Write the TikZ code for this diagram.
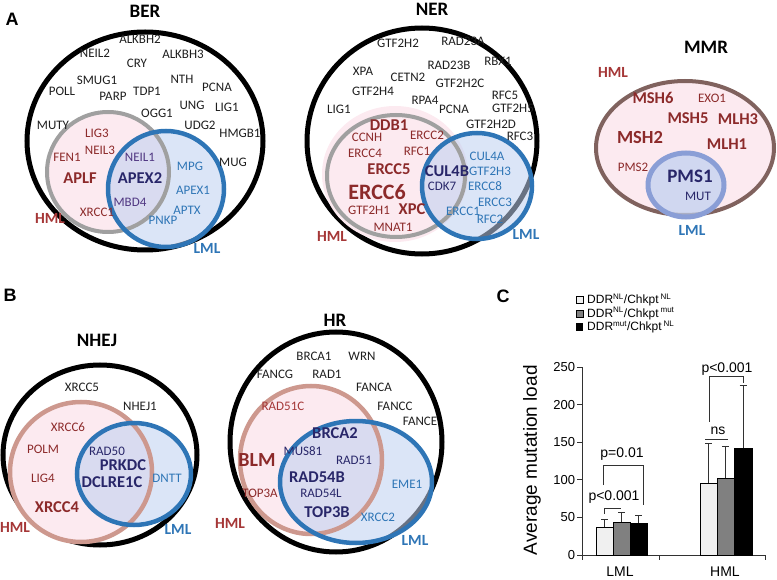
\documentclass[tikz,border=0pt]{standalone}
\usepackage{fontspec}
\setmainfont{Carlito}
\newfontfamily\chartfont{Liberation Sans}

\definecolor{genegray}{RGB}{30,30,30}
\definecolor{hmlred}{RGB}{140,42,42}
\definecolor{hmltagred}{RGB}{165,55,55}
\definecolor{lmlblue}{RGB}{46,117,182}
\definecolor{sharednavy}{RGB}{40,38,105}
\definecolor{sharedpurple}{RGB}{80,55,130}
\definecolor{pinkfill}{RGB}{252,234,240}
\definecolor{bluefill}{RGB}{190,208,240}
\definecolor{ringgray}{RGB}{160,160,160}
\definecolor{ringrose}{RGB}{205,152,142}
\definecolor{ringbrown}{RGB}{128,98,94}
\definecolor{ringlilac}{RGB}{138,158,214}
\definecolor{barlight}{RGB}{240,240,240}
\definecolor{barmid}{RGB}{128,128,128}
\definecolor{inkgray}{RGB}{50,50,50}

\tikzset{
  gene/.style={inner sep=0pt, text=genegray, font=\fontsize{13}{13}\selectfont},
  hmlgene/.style={gene, text=hmlred},
  lmlgene/.style={gene, text=lmlblue},
  sharedgene/.style={gene, text=sharednavy},
  biggene/.style={font=\fontsize{16.5}{17}\selectfont\bfseries},
  pathway/.style={inner sep=0pt, font=\fontsize{19}{19}\selectfont\bfseries},
  hmltag/.style={inner sep=0pt, text=hmltagred, font=\fontsize{15.5}{16}\selectfont\bfseries},
  lmltag/.style={inner sep=0pt, text=lmlblue, font=\fontsize{15.5}{16}\selectfont\bfseries},
  panel/.style={inner sep=0pt, font=\chartfont\fontsize{18}{18}\selectfont\bfseries},
  outerring/.style={draw=black, line width=5pt},
  hmlfill/.style={fill=pinkfill},
  lmlfill/.style={fill=bluefill, fill opacity=0.55},
  grayring/.style={draw=ringgray, line width=4pt},
  rosering/.style={draw=ringrose, line width=4.5pt},
  bluering/.style={draw=lmlblue, line width=4.5pt},
  chartfont/.style={font=\chartfont\fontsize{14}{14}\selectfont},
  keytext/.style={anchor=west, inner sep=0pt, font=\chartfont\fontsize{12}{12}\selectfont},
  axisline/.style={draw=inkgray, line width=0.8pt},
  barbox/.style={draw=black, line width=0.6pt},
  errbar/.style={draw=inkgray, line width=0.8pt},
  bracket/.style={draw=inkgray, line width=0.9pt},
}

\begin{document}
\begin{tikzpicture}[x=1pt,y=-1pt]
\useasboundingbox (0,0) rectangle (777,580);

% panel letters
\node[panel] (panelA) at (12,19) {A};
\node[panel] (panelB) at (10,295) {B};
\node[panel] (panelC) at (503,296) {C};

% ---------- BER ----------
\node[pathway] (ber) at (145,11) {BER};
\draw[outerring] (145,141) ellipse [x radius=118, y radius=109];
\fill[hmlfill] (108,172) ellipse [x radius=61, y radius=60];
\fill[lmlfill] (166,189) ellipse [x radius=58, y radius=58];
\draw[grayring] (108,172) ellipse [x radius=61, y radius=60];
\draw[bluering] (166,189) ellipse [x radius=58, y radius=58];
\node[gene] (ber-alkbh2) at (140,39) {ALKBH2};
\node[gene] (ber-neil2) at (95,53) {NEIL2};
\node[gene] (ber-alkbh3) at (183,54) {ALKBH3};
\node[gene] (ber-cry) at (137,63) {CRY};
\node[gene] (ber-smug1) at (97,80) {SMUG1};
\node[gene] (ber-nth) at (182,79) {NTH};
\node[gene] (ber-poll) at (62,91) {POLL};
\node[gene] (ber-parp) at (113,96) {PARP};
\node[gene] (ber-tdp1) at (147,91) {TDP1};
\node[gene] (ber-pcna) at (217,87) {PCNA};
\node[gene] (ber-ogg1) at (157,113) {OGG1};
\node[gene] (ber-ung) at (192,105) {UNG};
\node[gene] (ber-lig1) at (227,107) {LIG1};
\node[gene] (ber-muty) at (53,125) {MUTY};
\node[gene] (ber-udg2) at (200,125) {UDG2};
\node[gene] (ber-hmgb1) at (240,133) {HMGB1};
\node[gene] (ber-mug) at (233,162) {MUG};
\node[hmlgene] (ber-lig3) at (97,133) {LIG3};
\node[hmlgene] (ber-neil3) at (100,150) {NEIL3};
\node[hmlgene] (ber-fen1) at (67,157) {FEN1};
\node[hmlgene, biggene] (ber-aplf) at (80,178) {APLF};
\node[hmlgene] (ber-xrcc1) at (97,212) {XRCC1};
\node[gene, text=sharedpurple] (ber-neil1) at (140,157) {NEIL1};
\node[sharedgene, biggene] (ber-apex2) at (140,178) {APEX2};
\node[gene, text=sharedpurple] (ber-mbd4) at (130,202) {MBD4};
\node[lmlgene] (ber-mpg) at (190,166) {MPG};
\node[lmlgene] (ber-apex1) at (193,190) {APEX1};
\node[lmlgene] (ber-aptx) at (187,210) {APTX};
\node[lmlgene] (ber-pnkp) at (163,220) {PNKP};
\node[hmltag] (ber-hml) at (50,218) {HML};
\node[lmltag] (ber-lml) at (207,248) {LML};

% ---------- NER ----------
\node[pathway] (ner) at (432,9) {NER};
\draw[outerring] (422,141) ellipse [x radius=115, y radius=113];
\fill[hmlfill] (395,174) ellipse [x radius=73, y radius=68];
\fill[lmlfill] (477,186) ellipse [x radius=55, y radius=53];
\draw[grayring] (396,176) ellipse [x radius=69, y radius=61];
\draw[bluering] (477,186) ellipse [x radius=55, y radius=53];
\node[gene] (ner-gtf2h2) at (398,43) {GTF2H2};
\node[gene] (ner-rad23a) at (463,41) {RAD23A};
\node[gene] (ner-rad23b) at (449,65) {RAD23B};
\node[gene] (ner-rbx1) at (498,61) {RBX1};
\node[gene] (ner-xpa) at (363,71) {XPA};
\node[gene] (ner-cetn2) at (408,77) {CETN2};
\node[gene] (ner-gtf2h2c) at (460,83) {GTF2H2C};
\node[gene] (ner-gtf2h4) at (373,91) {GTF2H4};
\node[gene] (ner-rfc5) at (505,95) {RFC5};
\node[gene] (ner-rpa4) at (425,100) {RPA4};
\node[gene] (ner-lig1) at (339,109) {LIG1};
\node[gene] (ner-pcna) at (454,109) {PCNA};
\node[gene] (ner-gtf2h5) at (513,108) {GTF2H5};
\node[gene] (ner-gtf2h2d) at (491,124) {GTF2H2D};
\node[gene] (ner-rfc3) at (520,136) {RFC3};
\node[hmlgene, biggene] (ner-ddb1) at (389,125) {DDB1};
\node[hmlgene] (ner-ercc2) at (427,135) {ERCC2};
\node[hmlgene] (ner-ccnh) at (367,137) {CCNH};
\node[hmlgene] (ner-ercc4) at (365,153) {ERCC4};
\node[hmlgene] (ner-rfc1) at (417,151) {RFC1};
\node[hmlgene, biggene] (ner-ercc5) at (389,169) {ERCC5};
\node[hmlgene, biggene, font=\fontsize{22}{22}\selectfont\bfseries] (ner-ercc6) at (377,192) {ERCC6};
\node[hmlgene] (ner-gtf2h1) at (369,210) {GTF2H1};
\node[hmlgene, biggene] (ner-xpc) at (412,209) {XPC};
\node[hmlgene] (ner-mnat1) at (393,227) {MNAT1};
\node[sharedgene, biggene] (ner-cul4b) at (447,171) {CUL4B};
\node[sharedgene] (ner-cdk7) at (442,186) {CDK7};
\node[lmlgene] (ner-cul4a) at (487,156) {CUL4A};
\node[lmlgene] (ner-gtf2h3) at (490,171) {GTF2H3};
\node[lmlgene] (ner-ercc8) at (485,186) {ERCC8};
\node[lmlgene] (ner-ercc3) at (495,202) {ERCC3};
\node[lmlgene] (ner-ercc1) at (463,211) {ERCC1};
\node[lmlgene] (ner-rfc2) at (490,219) {RFC2};
\node[hmltag] (ner-hml) at (332,236) {HML};
\node[lmltag] (ner-lml) at (526,234) {LML};

% ---------- MMR ----------
\node[pathway] (mmr) at (706,47) {MMR};
\draw[draw=ringbrown, line width=4pt, fill=pinkfill] (685,148) ellipse [x radius=89, y radius=67];
\draw[draw=ringlilac, line width=5pt, fill=bluefill, fill opacity=0.7] (686,185) ellipse [x radius=38, y radius=32];
\node[hmlgene, biggene] (mmr-msh6) at (653,98) {MSH6};
\node[hmlgene] (mmr-exo1) at (712,98) {EXO1};
\node[hmlgene, biggene] (mmr-msh5) at (688,118) {MSH5};
\node[hmlgene, biggene] (mmr-mlh3) at (738,119) {MLH3};
\node[hmlgene, font=\fontsize{18.5}{19}\selectfont\bfseries] (mmr-msh2) at (640,137) {MSH2};
\node[hmlgene, biggene] (mmr-mlh1) at (727,144) {MLH1};
\node[hmlgene] (mmr-pms2) at (633,167) {PMS2};
\node[sharedgene, font=\fontsize{19}{19}\selectfont\bfseries] (mmr-pms1) at (690,176) {PMS1};
\node[sharedgene] (mmr-mut) at (698,196) {MUT};
\node[hmltag] (mmr-hml) at (613,72) {HML};
\node[lmltag] (mmr-lml) at (692,230) {LML};

% ---------- NHEJ ----------
\node[pathway] (nhej) at (97,340) {NHEJ};
\draw[outerring] (100,455) ellipse [x radius=97, y radius=90];
\fill[hmlfill] (81,472) ellipse [x radius=71, y radius=70];
\fill[lmlfill] (134,474) ellipse [x radius=57, y radius=51];
\draw[rosering] (81,472) ellipse [x radius=71, y radius=70];
\draw[bluering] (134,474) ellipse [x radius=57, y radius=51];
\node[gene] (nhej-xrcc5) at (82,387) {XRCC5};
\node[gene] (nhej-nhej1) at (140,406) {NHEJ1};
\node[hmlgene] (nhej-xrcc6) at (68,427) {XRCC6};
\node[hmlgene] (nhej-polm) at (43,449) {POLM};
\node[hmlgene] (nhej-lig4) at (43,478) {LIG4};
\node[hmlgene, biggene] (nhej-xrcc4) at (57,507) {XRCC4};
\node[sharedgene] (nhej-rad50) at (107,451) {RAD50};
\node[sharedgene, biggene] (nhej-prkdc) at (123,465) {PRKDC};
\node[sharedgene, biggene] (nhej-dclre1c) at (112,482) {DCLRE1C};
\node[lmlgene] (nhej-dntt) at (167,478) {DNTT};
\node[hmltag] (nhej-hml) at (15,527) {HML};
\node[lmltag] (nhej-lml) at (178,529) {LML};

% ---------- HR ----------
\node[pathway] (hr) at (335,320) {HR};
\draw[outerring] (336,442) ellipse [x radius=106, y radius=110];
\fill[hmlfill] (311,460) ellipse [x radius=71, y radius=74];
\fill[lmlfill] (356,482) ellipse [x radius=76, y radius=61];
\draw[rosering] (311,460) ellipse [x radius=71, y radius=74];
\draw[bluering] (356,482) ellipse [x radius=76, y radius=61];
\node[gene] (hr-brca1) at (314,356) {BRCA1};
\node[gene] (hr-wrn) at (362,356) {WRN};
\node[gene] (hr-fancg) at (275,374) {FANCG};
\node[gene] (hr-rad1) at (327,374) {RAD1};
\node[gene] (hr-fanca) at (374,387) {FANCA};
\node[gene] (hr-fancc) at (395,406) {FANCC};
\node[gene] (hr-fance) at (420,421) {FANCE};
\node[hmlgene, text=hmltagred] (hr-rad51c) at (283,406) {RAD51C};
\node[hmlgene, font=\fontsize{20}{20}\selectfont\bfseries] (hr-blm) at (257,460) {BLM};
\node[hmlgene] (hr-top3a) at (260,493) {TOP3A};
\node[sharedgene, biggene] (hr-brca2) at (335,433) {BRCA2};
\node[sharedgene] (hr-mus81) at (303,451) {MUS81};
\node[sharedgene] (hr-rad51) at (354,460) {RAD51};
\node[sharedgene, biggene] (hr-rad54b) at (317,477) {RAD54B};
\node[sharedgene] (hr-rad54l) at (321,493) {RAD54L};
\node[sharedgene, biggene] (hr-top3b) at (327,512) {TOP3B};
\node[lmlgene] (hr-eme1) at (407,484) {EME1};
\node[lmlgene] (hr-xrcc2) at (378,517) {XRCC2};
\node[hmltag] (hr-hml) at (230,523) {HML};
\node[lmltag] (hr-lml) at (415,540) {LML};

% ---------- C: mutation load ----------
\fill[barlight, draw=black, line width=0.6pt] (576,296.5) rectangle (583,303.5);
\fill[barmid, draw=black, line width=0.6pt] (576,310) rectangle (583,317);
\fill[black] (576,323.5) rectangle (583,330.5);
\node[keytext] (key-nlnl) at (587,300) {DDR\textsuperscript{NL}/Chkpt\,\textsuperscript{NL}};
\node[keytext] (key-nlmut) at (587,313.5) {DDR\textsuperscript{NL}/Chkpt\,\textsuperscript{mut}};
\node[keytext] (key-mutnl) at (587,327) {DDR\textsuperscript{mut}/Chkpt\,\textsuperscript{NL}};

\begin{scope}[shift={(0,555)}, y=0.752pt, chartfont]
  \draw[axisline] (582,0) -- (582,250);
  \draw[axisline] (582,0) -- (765,0);
  \foreach \v in {0,50,...,250}
    \draw[axisline] (582,\v) -- (577,\v) node[anchor=east, inner sep=1.5pt, font=\chartfont\fontsize{13}{13}\selectfont] (tick\v) {\v};
  \draw[axisline] (582,0) -- (582,-6.6);
  \draw[axisline] (659,0) -- (659,-6.6);
  \draw[axisline] (765,0) -- (765,-6.6);
  \node (xlml) at (620,-22.6) {LML};
  \node (xhml) at (725,-22.6) {HML};
  \node[rotate=90, font=\chartfont\fontsize{19}{19}\selectfont] (ylabel) at (532,126) {Average mutation load};

  % error bars
  \draw[errbar] (604.5,37.5) -- (604.5,48) (601,48) -- (608,48);
  \draw[errbar] (621.5,44) -- (621.5,56) (618,56) -- (625,56);
  \draw[errbar] (638.5,42) -- (638.5,53) (635,53) -- (642,53);
  \draw[errbar] (708.5,96) -- (708.5,148) (705,148) -- (712,148);
  \draw[errbar] (725.5,102) -- (725.5,144) (722,144) -- (729,144);
  \draw[errbar] (743,142) -- (743,225) (739.5,225) -- (746.5,225);

  % bars
  \filldraw[barbox, fill=barlight] (596,0) rectangle (613,37.5);
  \filldraw[barbox, fill=barmid] (613,0) rectangle (630,44);
  \filldraw[barbox, fill=black] (630,0) rectangle (647,42);
  \filldraw[barbox, fill=barlight] (700,0) rectangle (717,96);
  \filldraw[barbox, fill=barmid] (717,0) rectangle (734,102);
  \filldraw[barbox, fill=black] (734,0) rectangle (752,142);

  % significance
  \draw[bracket] (604.5,54.5) -- (604.5,62.5) -- (621,62.5);
  \node (p-lml-a) at (614,77) {p<0.001};
  \draw[bracket] (603,93) -- (603,119.7) -- (643,119.7) -- (643,66.5);
  \node (p-lml-b) at (622,134) {p=0.01};
  \draw[bracket] (705,154) -- (728,154);
  \node (p-hml-ns) at (718,165) {ns};
  \draw[bracket] (709,177) -- (709,237) -- (743,237) -- (743,229);
  \node (p-hml) at (727,247) {p<0.001};
\end{scope}
\end{tikzpicture}
\end{document}
